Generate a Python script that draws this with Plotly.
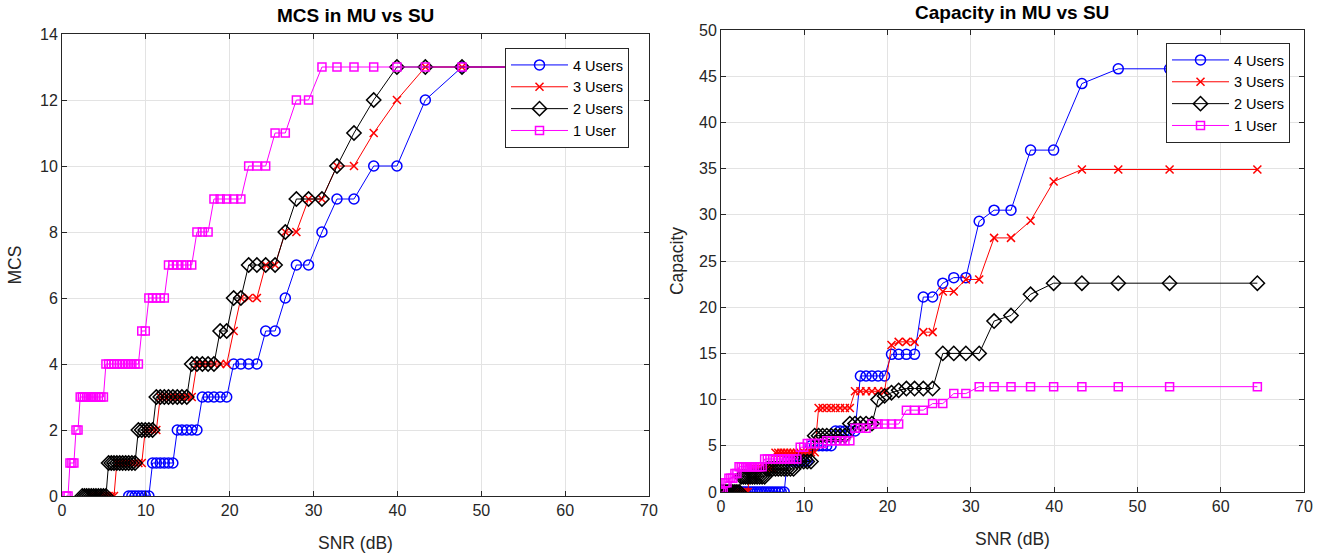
import plotly.graph_objects as go

# SNR sample points (dB), ascending
snr_db = [0.04, 0.26, 0.49, 0.72, 0.95, 1.18, 1.42, 1.67, 1.91, 2.17,
          2.42, 2.68, 2.94, 3.21, 3.49, 3.77, 4.05, 4.34, 4.64, 4.94,
          5.24, 5.56, 5.88, 6.20, 6.54, 6.88, 7.23, 7.59, 7.95, 8.33,
          8.71, 9.11, 9.51, 9.93, 10.36, 10.80, 11.25, 11.72, 12.20, 12.70,
          13.22, 13.75, 14.30, 14.88, 15.47, 16.09, 16.74, 17.42, 18.12, 18.86,
          19.64, 20.47, 21.33, 22.26, 23.24, 24.29, 25.41, 26.63, 27.95, 29.40,
          31.00, 32.79, 34.82, 37.17, 39.94, 43.33, 47.70, 53.86, 64.40]

N = None
# MCS per SNR point
mcs_4users = [N, N, N, N, N, N, N, N, N, N,
              N, N, N, N, N, N, N, N, N, N,
              N, N, N, N, N, N, N, N, 0, 0,
              0, 0, 0, 0, 0, 1, 1, 1, 1, 1,
              1, 2, 2, 2, 2, 2, 3, 3, 3, 3,
              3, 4, 4, 4, 4, 5, 5, 6, 7, 7,
              8, 9, 9, 10, 10, 12, 13, 13, 13]
mcs_3users = [N, N, N, N, N, N, N, N, N, N,
              N, N, N, N, 0, 0, 0, 0, 0, 0,
              0, 0, 0, 0, 1, 1, 1, 1, 1, 1,
              1, 1, 1, 2, 2, 2, 2, 3, 3, 3,
              3, 3, 3, 3, 3, 4, 4, 4, 4, 4,
              4, 5, 6, 6, 6, 7, 7, 8, 8, 9,
              9, 10, 10, 11, 12, 13, 13, 13, 13]
mcs_2users = [N, N, N, N, N, N, N, N, N, N,
              0, 0, 0, 0, 0, 0, 0, 0, 0, 0,
              0, 1, 1, 1, 1, 1, 1, 1, 1, 1,
              1, 2, 2, 2, 2, 2, 3, 3, 3, 3,
              3, 3, 3, 3, 4, 4, 4, 4, 4, 5,
              5, 6, 6, 7, 7, 7, 7, 8, 9, 9,
              9, 10, 11, 12, 13, 13, 13, 13, 13]
mcs_1user = [N, N, 0, 0, 1, 1, 1, 2, 2, 3,
             3, 3, 3, 3, 3, 3, 3, 3, 3, 3,
             4, 4, 4, 4, 4, 4, 4, 4, 4, 4,
             4, 4, 5, 5, 6, 6, 6, 6, 6, 7,
             7, 7, 7, 7, 7, 8, 8, 8, 9, 9,
             9, 9, 9, 10, 10, 10, 11, 11, 12, 12,
             13, 13, 13, 13, 13, 13, 13, 13, 13]

# Capacity per SNR point
cap_4users = [0, 0, 0, 0, 0, 0, 0, 0, 0, 0,
              0, 0, 0, 0, 0, 0, 0, 0, 0, 0,
              0, 0, 0, 0, 0, 0, 0, 0, 3.35, 3.35,
              3.35, 3.35, 3.35, 3.35, 3.35, 5.0, 5.0, 5.0, 5.0, 5.0,
              5.0, 6.6, 6.6, 6.6, 6.6, 6.6, 12.56, 12.56, 12.56, 12.56,
              12.56, 14.9, 14.9, 14.9, 14.9, 21.1, 21.1, 22.6, 23.2, 23.2,
              29.3, 30.5, 30.5, 37.0, 37.0, 44.2, 45.8, 45.8, 45.8]
cap_3users = [0, 0, 0, 0, 0, 0, 0, 0, 0, 0,
              0, 0, 0, 0, 2.55, 2.55, 2.55, 2.55, 2.55, 2.55,
              2.55, 2.55, 2.55, 2.55, 4.25, 4.25, 4.25, 4.25, 4.25, 4.25,
              4.25, 4.25, 4.25, 4.3, 4.3, 4.3, 4.3, 9.1, 9.1, 9.1,
              9.1, 9.1, 9.1, 9.1, 9.1, 10.9, 10.9, 10.9, 10.9, 10.9,
              10.9, 15.9, 16.25, 16.25, 16.25, 17.3, 17.3, 21.7, 21.7, 23.0,
              23.0, 27.5, 27.5, 29.35, 33.6, 34.9, 34.9, 34.9, 34.9]
cap_2users = [0, 0, 0, 0, 0, 0, 0, 0, 0, 0,
              1.65, 1.65, 1.65, 1.65, 1.65, 1.65, 1.65, 1.65, 1.65, 1.65,
              1.65, 2.5, 2.5, 2.5, 2.5, 2.5, 2.5, 2.5, 2.5, 2.5,
              2.5, 3.3, 3.3, 3.3, 3.3, 3.3, 6.1, 6.1, 6.1, 6.1,
              6.1, 6.1, 6.1, 6.1, 7.4, 7.4, 7.4, 7.4, 7.4, 10.0,
              10.4, 10.75, 11.0, 11.2, 11.2, 11.2, 11.2, 15.0, 15.0, 15.0,
              15.0, 18.5, 19.1, 21.4, 22.6, 22.6, 22.6, 22.6, 22.6]
cap_1user = [0, 0, 1.0, 1.0, 1.5, 1.5, 1.5, 2.0, 2.0, 2.74,
             2.74, 2.74, 2.74, 2.74, 2.74, 2.74, 2.74, 2.74, 2.74, 2.74,
             3.57, 3.57, 3.57, 3.57, 3.57, 3.57, 3.57, 3.57, 3.57, 3.57,
             3.57, 3.57, 4.85, 4.85, 5.25, 5.25, 5.25, 5.25, 5.25, 5.55,
             5.55, 5.55, 5.55, 5.55, 5.55, 6.9, 6.9, 6.9, 7.35, 7.35,
             7.35, 7.35, 7.35, 8.86, 8.86, 8.86, 9.57, 9.57, 10.65, 10.65,
             11.4, 11.4, 11.4, 11.4, 11.4, 11.4, 11.4, 11.4, 11.4]

series_names = ["4 Users", "3 Users", "2 Users", "1 User"]
colors = ["#0000ff", "#ff0000", "#000000", "#ff00ff"]
symbols = ["circle-open", "x-thin-open", "diamond-open", "square-open"]
sizes = [10, 8, 11, 8]

mcs_series = [mcs_4users, mcs_3users, mcs_2users, mcs_1user]
cap_series = [cap_4users, cap_3users, cap_2users, cap_1user]

FONT = "Liberation Sans, Arial, Helvetica, sans-serif"

fig = go.Figure()
for i in range(4):
    fig.add_trace(go.Scatter(
        x=snr_db, y=mcs_series[i], name=series_names[i], mode="lines+markers",
        line=dict(color=colors[i], width=1),
        marker=dict(symbol=symbols[i], size=sizes[i], color=colors[i],
                    line=dict(color=colors[i], width=1.5)),
        xaxis="x", yaxis="y", legend="legend", connectgaps=False))
for i in range(4):
    fig.add_trace(go.Scatter(
        x=snr_db, y=cap_series[i], name=series_names[i], mode="lines+markers",
        line=dict(color=colors[i], width=1),
        marker=dict(symbol=symbols[i], size=sizes[i], color=colors[i],
                    line=dict(color=colors[i], width=1.5)),
        xaxis="x2", yaxis="y2", legend="legend2"))

axis_common = dict(showline=True, linecolor="#262626", linewidth=1, mirror="ticks",
                   ticks="inside", ticklen=5, tickcolor="#262626", automargin=False,
                   showgrid=True, gridcolor="#e3e3e3", gridwidth=1, zeroline=False,
                   tickfont=dict(family=FONT, size=16, color="#262626"))

TITLE_FONT = dict(family=FONT, size=17.5, color="#262626")
LEG_FONT = dict(family=FONT, size=14.5, color="#000000")

H = 559.0
W = 1332.0
fig.update_layout(
    template="none",
    width=1332, height=559,
    margin=dict(l=0, r=0, t=0, b=0, autoexpand=False),
    paper_bgcolor="white", plot_bgcolor="white",
    font=dict(family=FONT, color="#262626"),
    xaxis=dict(domain=[62 / W, 649 / W], range=[0, 70], dtick=10, anchor="y",
               title=dict(text="SNR (dB)", font=TITLE_FONT, standoff=18), **axis_common),
    yaxis=dict(domain=[(H - 496) / H, (H - 34) / H], range=[0, 14], dtick=2, anchor="x",
               title=dict(text="MCS", font=TITLE_FONT, standoff=13), **axis_common),
    xaxis2=dict(domain=[721 / W, 1304 / W], range=[0, 70], dtick=10, anchor="y2",
                title=dict(text="SNR (dB)", font=TITLE_FONT, standoff=18), **axis_common),
    yaxis2=dict(domain=[(H - 492) / H, (H - 30) / H], range=[0, 50], dtick=5, anchor="x2",
                title=dict(text="Capacity", font=TITLE_FONT, standoff=10), **axis_common),
    legend=dict(x=505 / W, y=1 - 48 / H, xanchor="left", yanchor="top",
                bgcolor="white", bordercolor="#262626", borderwidth=1, itemwidth=57,
                font=LEG_FONT, tracegroupgap=0),
    legend2=dict(x=1166 / W, y=1 - 43 / H, xanchor="left", yanchor="top",
                 bgcolor="white", bordercolor="#262626", borderwidth=1, itemwidth=57,
                 font=LEG_FONT, tracegroupgap=0),
    annotations=[
        dict(text="<b>MCS in MU vs SU</b>", x=(62 + 649) / 2 / W, y=1 - 16 / H,
             xref="paper", yref="paper", showarrow=False, xanchor="center", yanchor="middle",
             font=dict(family=FONT, size=19, color="#000000")),
        dict(text="<b>Capacity in MU vs SU</b>", x=(721 + 1304) / 2 / W, y=1 - 12 / H,
             xref="paper", yref="paper", showarrow=False, xanchor="center", yanchor="middle",
             font=dict(family=FONT, size=19, color="#000000")),
    ],
)

fig.write_html("out.html")
